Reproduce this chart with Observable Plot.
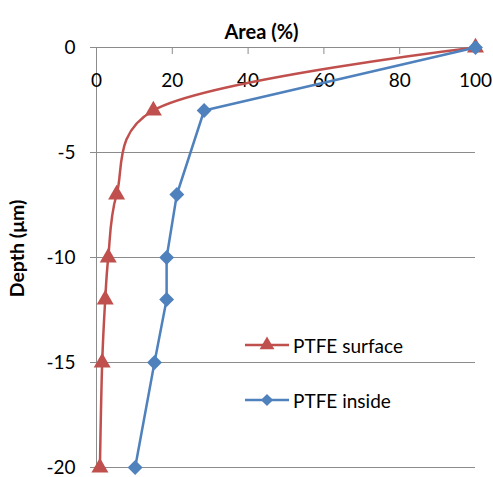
<!DOCTYPE html>
<html><head><meta charset="utf-8">
<script src="https://cdn.jsdelivr.net/npm/d3@7"></script>
<script src="https://cdn.jsdelivr.net/npm/@observablehq/plot@0.6"></script>
<style>
body{margin:0;background:#fff;}
#wrap{position:relative;width:493px;height:477px;font-family:Lato,"Open Sans",sans-serif;}
.li{position:absolute;left:245px;height:24px;display:flex;align-items:center;white-space:nowrap;font-size:19px;color:#000;font-family:Lato,"Open Sans",sans-serif;}
.li svg{display:block;}
</style></head><body><div id="wrap"></div>
<script>
const depth = [0, -3, -7, -10, -12, -15, -20];
const surfaceArea = [100, 15, 5.3, 3.1, 2.3, 1.5, 0.9];
const insideArea = [100, 28.4, 21.2, 18.5, 18.5, 15.3, 10.2];
const xTicks = [0, 20, 40, 60, 80, 100];
const yTicks = [0, -5, -10, -15, -20];
const seriesNames = ["PTFE surface", "PTFE inside"];
const colors = ["#C0504D", "#4F81BD"];
const xTitle = "Area (%)";
const yTitle = "Depth (μm)";

const surface = depth.map((d, i) => ({x: surfaceArea[i], y: d}));
const inside = depth.map((d, i) => ({x: insideArea[i], y: d}));
const gray = "#8c8c8c";

const chart = Plot.plot({
  width: 493, height: 477,
  marginTop: 47, marginBottom: 10, marginLeft: 96, marginRight: 18,
  style: {fontFamily: "Lato, 'Open Sans', sans-serif", fontSize: "19px", overflow: "visible", background: "transparent", color: "#000"},
  x: {domain: [0, 100]},
  y: {domain: [-20, 0]},
  marks: [
    Plot.gridY(yTicks.slice(1), {stroke: gray, strokeOpacity: 1, strokeWidth: 1}),
    Plot.ruleY([0], {stroke: gray, strokeWidth: 1}),
    Plot.ruleX([0], {stroke: gray, strokeWidth: 1}),
    Plot.axisY(yTicks, {tickSize: 6, tickPadding: 15, label: null, stroke: gray, fill: "#000", tickFormat: d => String(d)}),
    Plot.axisX(xTicks, {anchor: "top", tickSize: 6, dy: 6, tickFormat: () => "", label: null, stroke: gray}),
    Plot.axisX(xTicks, {anchor: "top", tickSize: 0, tickPadding: 0, dy: 39, label: null, fill: "#000", tickFormat: d => String(d)}),
    Plot.text([xTitle], {frameAnchor: "top", dy: -23, dx: -24.5, fontWeight: "bold", fontSize: 20, fill: "#000"}),
    Plot.text([yTitle], {frameAnchor: "left", textAnchor: "middle", rotate: -90, dx: -78.5, dy: -9, fontWeight: "bold", fontSize: 19.5, fill: "#000"}),
    Plot.line(surface, {x: "x", y: "y", stroke: colors[0], strokeWidth: 2.5, curve: "catmull-rom", tension: 0.25}),
    Plot.dot(surface, {x: "x", y: "y", symbol: "triangle", r: 6.3, fill: colors[0], stroke: "none"}),
    Plot.line(inside, {x: "x", y: "y", stroke: colors[1], strokeWidth: 2.5}),
    Plot.dot(inside, {x: "x", y: "y", symbol: "diamond2", r: 6.7, fill: colors[1], stroke: "none"})
  ]
});
const wrap = document.getElementById("wrap");
wrap.appendChild(chart);

const legendY = [345, 400];
const legendSymbols = [d3.symbol(d3.symbolTriangle, Math.PI * 5.5 * 5.5), d3.symbol(d3.symbolDiamond2, Math.PI * 5.5 * 5.5)];
seriesNames.forEach((name, i) => {
  const row = document.createElement("div");
  row.className = "li";
  row.style.top = (legendY[i] - 12) + "px";
  row.innerHTML = `<svg width="48" height="24"><line x1="0" x2="44" y1="12" y2="12" stroke="${colors[i]}" stroke-width="2.5"/><path transform="translate(22,12)" d="${legendSymbols[i]()}" fill="${colors[i]}"/></svg><span>${name}</span>`;
  wrap.appendChild(row);
});
</script></body></html>
